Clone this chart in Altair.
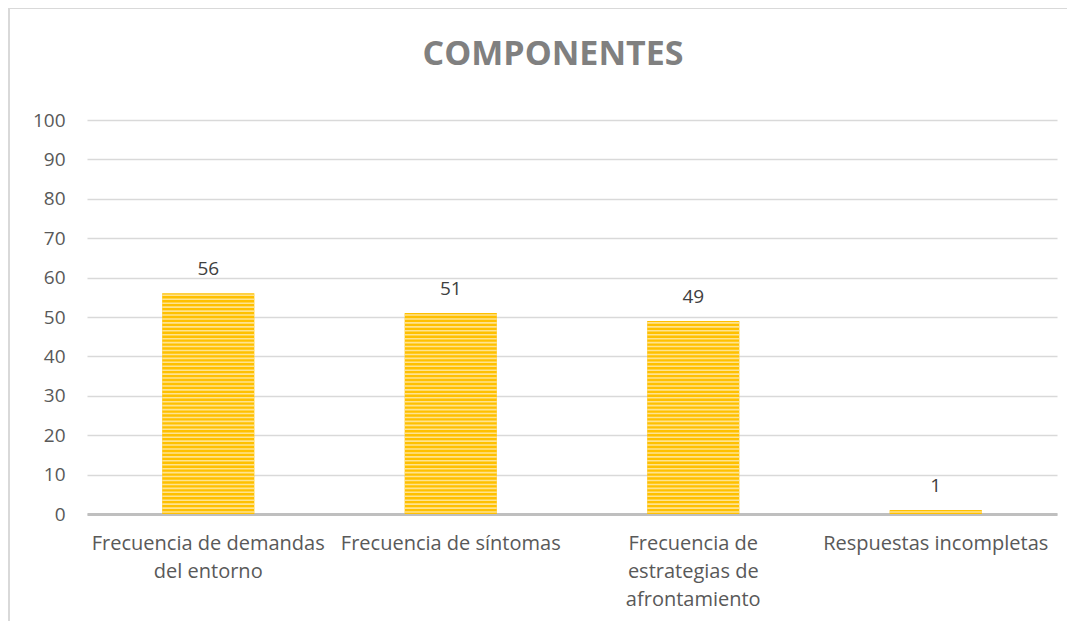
import altair as alt
import pandas as pd

categories = [
    "Frecuencia de demandas del entorno",
    "Frecuencia de síntomas",
    "Frecuencia de estrategias de afrontamiento",
    "Respuestas incompletas",
]
label_lines = [
    ["Frecuencia de demandas", "del entorno"],
    ["Frecuencia de síntomas"],
    ["Frecuencia de", "estrategias de", "afrontamiento"],
    ["Respuestas incompletas"],
]
values = [56, 51, 49, 1]
y_ticks = [0, 10, 20, 30, 40, 50, 60, 70, 80, 90, 100]
title_text = "COMPONENTES"

df = pd.DataFrame({"cat": categories, "val": values})
stripes = pd.DataFrame(
    [{"cat": c, "s0": k + 0.3, "s1": k + 0.7} for c, v in zip(categories, values) for k in range(v)]
)
title_df = pd.DataFrame({"t": [title_text]})

# label expression for multi-line labels
expr = "datum.label"
for c, lines in reversed(list(zip(categories, label_lines))):
    arr = "[" + ",".join("'" + l + "'" for l in lines) + "]"
    expr = f"datum.label == '{c}' ? {arr} : ({expr})"

FONT = "Open Sans"
x_axis = alt.Axis(
    title=None, labelAngle=0, labelExpr=expr, labelFont=FONT, labelFontSize=20,
    labelColor="#595959", labelPadding=19, labelLineHeight=28, labelBaseline="top",
    ticks=False, domainColor="#bfbfbf", domainWidth=3, grid=False, labelLimit=300,
)
x_scale = alt.Scale(paddingInner=0.62, paddingOuter=0.31)
y_scale = alt.Scale(domain=[0, 100], nice=False)
y_axis = alt.Axis(
    title=None, values=y_ticks, labelOverlap=False, labelFlush=False,
    labelFont=FONT, labelFontSize=19, labelColor="#595959",
    labelPadding=22, ticks=False, domain=False, gridColor="#d9d9d9", gridWidth=1.3,
)


def X():
    return alt.X("cat:N", sort=categories, scale=x_scale, axis=x_axis)


base = alt.Chart(df)

border = base.mark_rect(fill=None, stroke="#d9d9d9", strokeWidth=2).encode(
    x=alt.value(-78), x2=alt.value(1100), y=alt.value(-112), y2=alt.value(600)
)

bars = base.mark_bar(color="#FFC000").encode(
    x=X(), y=alt.Y("val:Q", scale=y_scale, axis=y_axis)
)
stripe_bars = alt.Chart(stripes).mark_bar(color="#FFE38F").encode(
    x=X(), y=alt.Y("s0:Q", scale=y_scale, axis=y_axis), y2="s1:Q"
)
texts = base.mark_text(baseline="bottom", dy=-14, font=FONT, fontSize=19, color="#404040").encode(
    x=X(), y=alt.Y("val:Q", scale=y_scale, axis=y_axis), text="val:Q"
)
title = alt.Chart(title_df).mark_text(
    font=FONT, fontSize=34, fontWeight="bold", color="#808080", baseline="alphabetic", align="center"
).encode(x=alt.value(466), y=alt.value(-55), text="t:N")

chart = (
    alt.layer(border, bars, stripe_bars, texts, title)
    .properties(
        width=970,
        height=394,
        padding={"left": 79, "top": 112, "right": 10, "bottom": 107},
        autosize=alt.AutoSizeParams(type="none"),
    )
    .configure_view(stroke=None)
)

chart.save("out.html", embed_options={"renderer": "svg", "actions": False})
